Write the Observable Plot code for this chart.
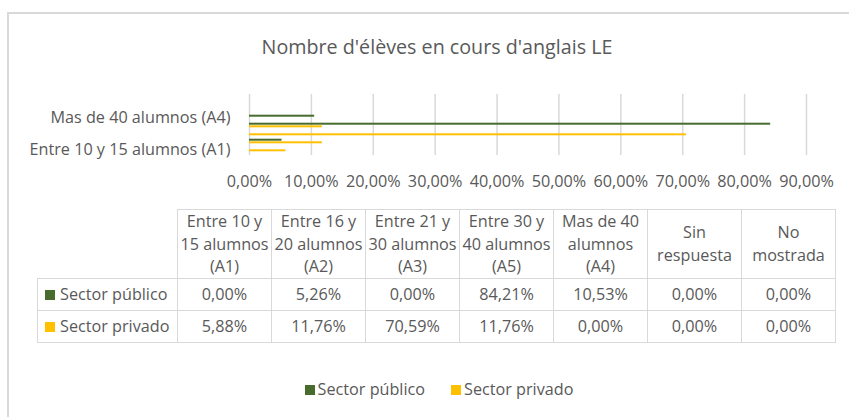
<!DOCTYPE html>
<html>
<head>
<meta charset="utf-8">
<script src="https://cdn.jsdelivr.net/npm/d3@7"></script>
<script src="https://cdn.jsdelivr.net/npm/@observablehq/plot@0.6"></script>
<style>
  html, body { margin: 0; padding: 0; background: #fff; overflow: hidden; }
  #root { position: relative; width: 849px; height: 417px; overflow: hidden; font-family: "Open Sans", sans-serif; color: #595959; }
  #frame { position: absolute; left: 7px; top: 12px; width: 900px; height: 500px; border: 2px solid #d9d9d9; box-sizing: border-box; }
  #title { position: absolute; left: 8px; width: 858px; top: 33px; text-align: center; font-size: 19.7px; line-height: 28px; }
  #chart { position: absolute; left: 0; top: 0; }
  #tbl { position: absolute; left: 37px; top: 209px; border-collapse: collapse; font-size: 16.2px; table-layout: fixed; }
  #tbl td { border: 1.5px solid #d9d9d9; text-align: center; vertical-align: middle; padding: 0 1px; line-height: 22.7px; }
  #tbl td.corner { border: none; border-right: 1.5px solid #d9d9d9; border-bottom: 1.5px solid #d9d9d9; }
  #tbl td.rh { text-align: left; padding-left: 7px; white-space: nowrap; }
  .sw { display: inline-block; width: 10px; height: 10px; margin-right: 5px; vertical-align: 0px; }
  #legend { position: absolute; left: 8px; width: 862px; top: 377px; text-align: center; font-size: 16.2px; line-height: 24px; }
  #legend span.item { margin: 0 13px; }
</style>
</head>
<body>
<div id="root">
  <div id="frame"></div>
  <div id="chart"></div>
  <div id="title"></div>
  <table id="tbl"></table>
  <div id="legend"></div>
</div>
<script>
// ---- data ----
const chartTitle = "Nombre d'élèves en cours d'anglais LE";
const categories = [
  "Entre 10 y 15 alumnos (A1)",
  "Entre 16 y 20 alumnos (A2)",
  "Entre 21 y 30 alumnos (A3)",
  "Entre 30 y 40 alumnos (A5)",
  "Mas de 40 alumnos (A4)",
  "Sin respuesta",
  "No mostrada"
];
const seriesNames = ["Sector público", "Sector privado"];
const publico = [0.00, 5.26, 0.00, 84.21, 10.53, 0.00, 0.00];
const privado = [5.88, 11.76, 70.59, 11.76, 0.00, 0.00, 0.00];
const seriesColors = ["#476c2e", "#ffc000"];
const xTicks = [0, 10, 20, 30, 40, 50, 60, 70, 80, 90];
const shownYLabels = ["Entre 10 y 15 alumnos (A1)", "Mas de 40 alumnos (A4)"];

const fmt = v => v.toFixed(2).replace(".", ",") + "%";

document.getElementById("title").textContent = chartTitle;

const rowsPub = categories.map((c, i) => ({cat: c, value: publico[i]}));
const rowsPriv = categories.map((c, i) => ({cat: c, value: privado[i]}));

const chart = Plot.plot({
  width: 849,
  height: 200,
  marginLeft: 249,
  marginRight: 43,
  marginTop: 94,
  marginBottom: 45,
  style: {fontFamily: "Open Sans, sans-serif", fontSize: "16.2px", color: "#595959", background: "transparent", overflow: "visible"},
  x: {domain: [0, 90], axis: null, label: null},
  y: {domain: categories.slice().reverse(), padding: 0, axis: null, label: null},
  marks: [
    Plot.ruleX(xTicks, {stroke: "#d9d9d9", strokeWidth: 1.5}),
    Plot.barX(rowsPub, {x: "value", y: "cat", fill: seriesColors[0], insetTop: 1.7, insetBottom: 4.3}),
    Plot.barX(rowsPriv, {x: "value", y: "cat", fill: seriesColors[1], insetTop: 4.3, insetBottom: 1.7}),
    Plot.axisX({ticks: xTicks, tickFormat: fmt, tickSize: 0, tickPadding: 20, label: null}),
    Plot.axisY({ticks: shownYLabels, tickSize: 0, tickPadding: 19, tickFormat: d => d, label: null})
  ]
});
document.getElementById("chart").appendChild(chart);

// ---- data table ----
const tbl = document.getElementById("tbl");
let html = '<colgroup><col style="width:140px">' + categories.map(() => '<col style="width:94px">').join("") + '</colgroup>';
html += '<tr style="height:69px"><td class="corner"></td>' + categories.map(c => `<td>${c}</td>`).join("") + '</tr>';
const seriesValues = [publico, privado];
seriesNames.forEach((s, k) => {
  html += `<tr style="height:32px"><td class="rh"><span class="sw" style="background:${seriesColors[k]}"></span>${s}</td>` +
    seriesValues[k].map(v => `<td>${fmt(v)}</td>`).join("") + '</tr>';
});
tbl.innerHTML = html;

// ---- legend ----
document.getElementById("legend").innerHTML = seriesNames.map((s, k) =>
  `<span class="item"><span class="sw" style="background:${seriesColors[k]};margin-right:3px"></span>${s}</span>`).join("");
</script>
</body>
</html>
